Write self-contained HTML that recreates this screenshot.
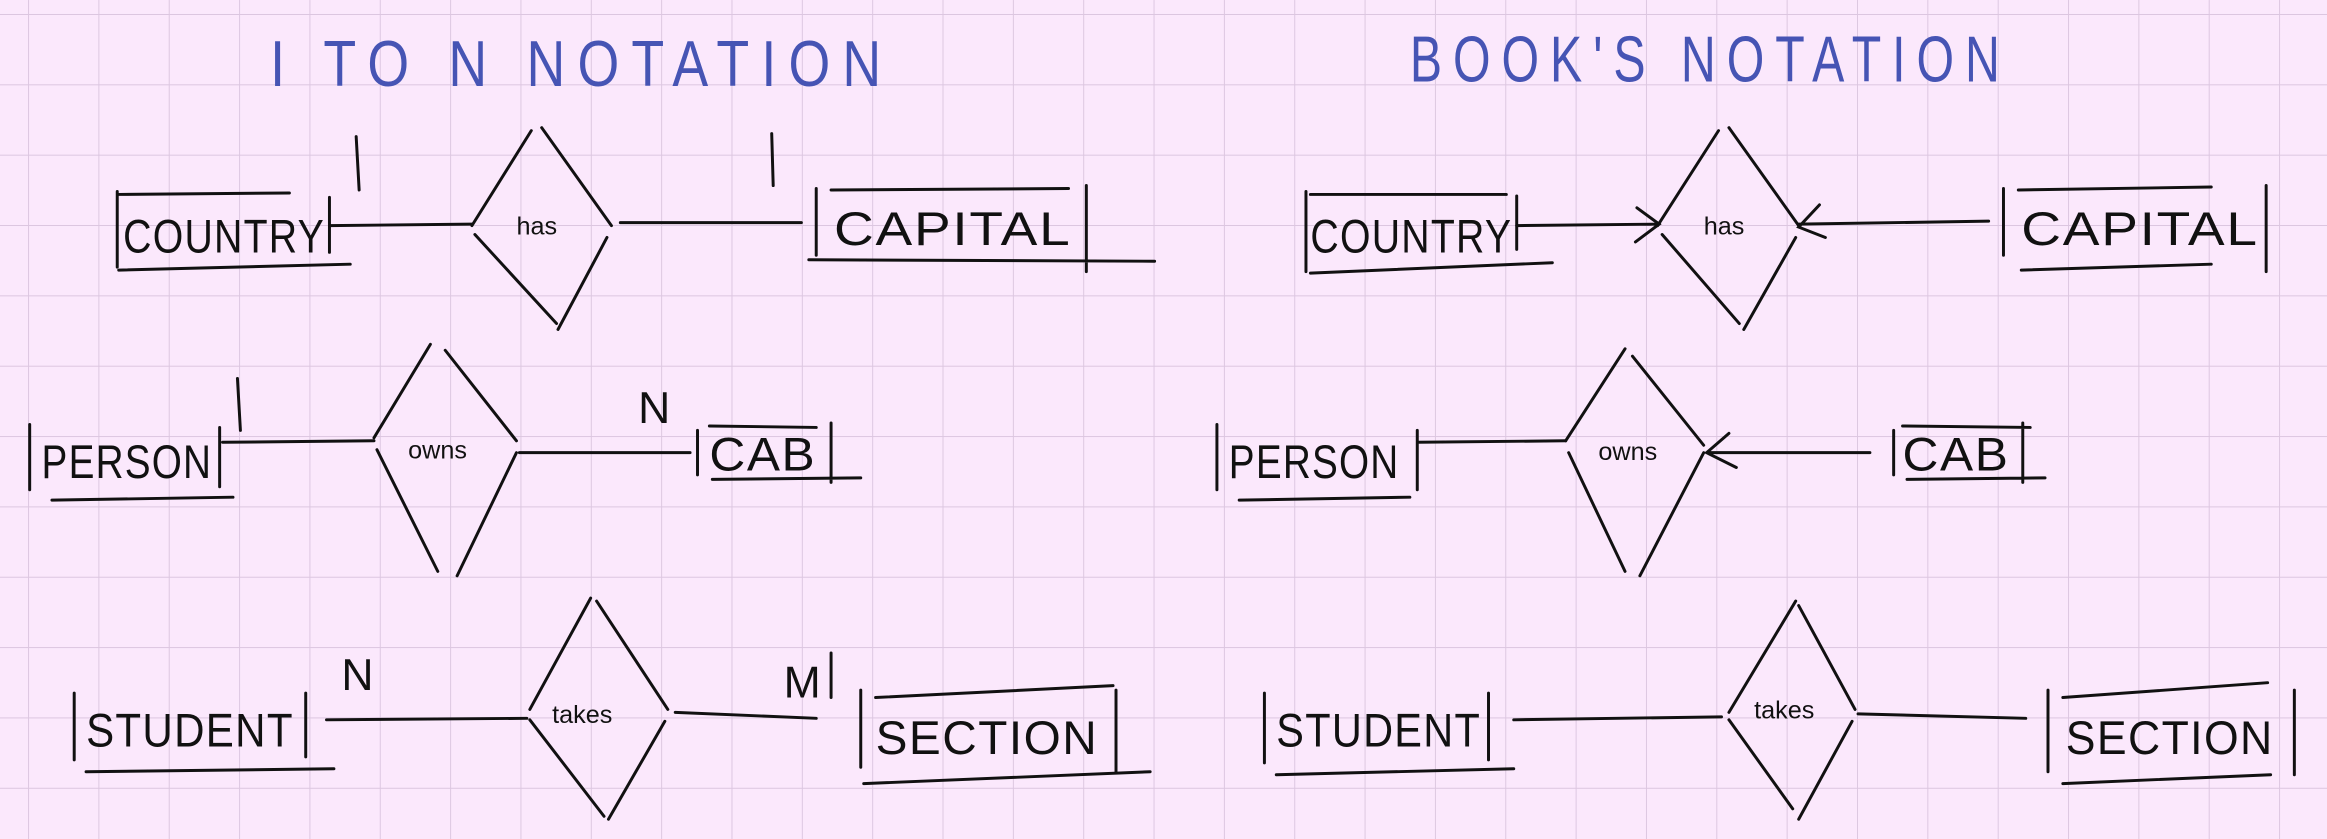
<!DOCTYPE html>
<html><head><meta charset="utf-8"><style>
html,body{margin:0;padding:0;background:#fbe8fc;}
svg{display:block}
text{font-family:"Liberation Sans",sans-serif;fill:#111;}
.t{fill:#4654b4;font-size:44px;letter-spacing:10px;}
.e{font-size:32px;letter-spacing:1px;}
.r{font-size:17px;}
.c{font-size:30px;}
</style></head><body>
<svg width="2327" height="839" viewBox="0 0 1568 565.3" xmlns="http://www.w3.org/2000/svg">
<defs>
<pattern id="g" x="18.9" y="9.4" width="47.4" height="47.4" patternUnits="userSpaceOnUse">
<path d="M0 0H47.4M0 0V47.4" stroke="#dcc6e0" stroke-width="1.3" fill="none"/>
</pattern>
</defs>
<rect width="1568" height="566" fill="#fbe8fc"/>
<rect width="1568" height="566" fill="url(#g)"/>
<text class="t" x="182" y="58" textLength="420" lengthAdjust="spacingAndGlyphs">I TO N NOTATION</text>
<text class="t" x="950" y="55" textLength="405" lengthAdjust="spacingAndGlyphs">BOOK'S NOTATION</text>
<g stroke="#111" stroke-width="2" fill="none" stroke-linecap="round">
<!-- LEFT -->
<!-- country -->
<path d="M79 129V180M80 131L195 130M80 182L236 178M222 133V170"/>
<path d="M240 92L242 128M222 152L318 151"/>
<path d="M358 88L318 152M365 86L412 152M320 158L375 218M409 160L376 222"/>
<path d="M418 150L540 150M520 90L521 125"/>
<path d="M550 127V172M560 128L720 127M732 125V183M545 175L778 176"/>
<!-- person -->
<path d="M20 286V330M148 288V328M35 337L157 335M160 255L162 290M150 298L252 297"/>
<path d="M290 232L252 295M300 236L348 297M254 303L295 385M348 305L308 388M350 305L465 305"/>
<path d="M470 290V320M478 287L550 288M560 285V325M480 323L580 322"/>
<!-- student -->
<path d="M50 467V512M206 467V510M58 520L225 518M220 485L355 484"/>
<path d="M398 403L357 478M402 405L450 478M357 485L407 550M448 486L410 552M455 480L550 484M560 440V470"/>
<path d="M580 465V517M590 470L750 462M752 465V520M582 528L775 520"/>
<!-- RIGHT -->
<path d="M880 129V183M883 131L1015 131M883 184L1046 177M1022 132V168"/>
<path d="M1022 152L1117 151M1103 140L1118 151L1102 163"/>
<path d="M1158 88L1117 152M1165 86L1212 152M1120 158L1172 218M1210 160L1175 222"/>
<path d="M1212 151L1340 149M1226 138L1212 153L1230 160"/>
<path d="M1350 127V172M1360 128L1490 126M1527 125V183M1362 182L1490 178"/>
<path d="M820 286V330M955 290V330M835 337L950 335M955 298L1055 297"/>
<path d="M1095 235L1055 297M1100 240L1148 300M1057 305L1095 385M1148 305L1105 388"/>
<path d="M1150 305L1260 305M1165 292L1150 305L1170 315"/>
<path d="M1276 290V320M1282 287L1368 288M1363 285V325M1285 323L1378 322"/>
<path d="M852 467V514M1003 467V512M860 522L1020 518M1020 485L1160 483"/>
<path d="M1210 405L1165 480M1212 408L1250 478M1165 485L1208 545M1248 486L1212 552"/>
<path d="M1252 481L1365 484"/>
<path d="M1380 465V520M1390 470L1528 460M1546 465V522M1390 528L1530 522"/>
</g>
<text class="e" x="83" y="170" textLength="136" lengthAdjust="spacingAndGlyphs">COUNTRY</text>
<text class="e" x="562" y="165" textLength="160" lengthAdjust="spacingAndGlyphs">CAPITAL</text>
<text class="e" x="28" y="322" textLength="115" lengthAdjust="spacingAndGlyphs">PERSON</text>
<text class="e" x="478" y="317" textLength="72" lengthAdjust="spacingAndGlyphs">CAB</text>
<text class="e" x="58" y="503" textLength="140" lengthAdjust="spacingAndGlyphs">STUDENT</text>
<text class="e" x="590" y="508" textLength="150" lengthAdjust="spacingAndGlyphs">SECTION</text>
<text class="r" x="348" y="158">has</text>
<text class="r" x="275" y="309">owns</text>
<text class="r" x="372" y="487">takes</text>
<text class="c" x="430" y="285">N</text>
<text class="c" x="230" y="465">N</text>
<text class="c" x="528" y="470">M</text>
<text class="e" x="883" y="170" textLength="136" lengthAdjust="spacingAndGlyphs">COUNTRY</text>
<text class="e" x="1362" y="165" textLength="160" lengthAdjust="spacingAndGlyphs">CAPITAL</text>
<text class="e" x="828" y="322" textLength="115" lengthAdjust="spacingAndGlyphs">PERSON</text>
<text class="e" x="1282" y="317" textLength="72" lengthAdjust="spacingAndGlyphs">CAB</text>
<text class="e" x="860" y="503" textLength="138" lengthAdjust="spacingAndGlyphs">STUDENT</text>
<text class="e" x="1392" y="508" textLength="140" lengthAdjust="spacingAndGlyphs">SECTION</text>
<text class="r" x="1148" y="158">has</text>
<text class="r" x="1077" y="310">owns</text>
<text class="r" x="1182" y="484">takes</text>
</svg>
</body></html>
